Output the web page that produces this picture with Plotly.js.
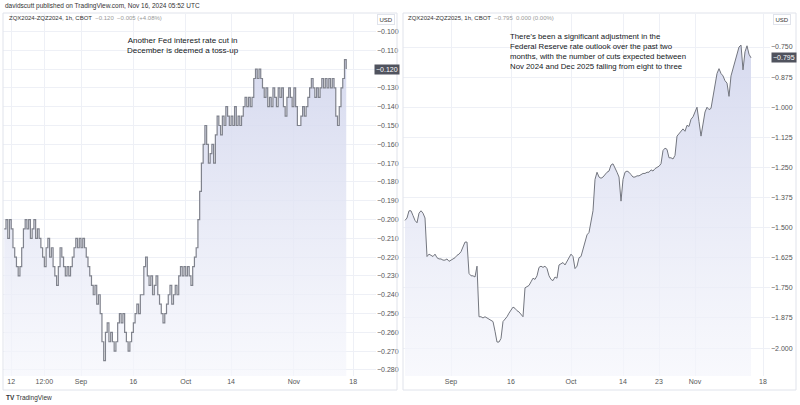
<!DOCTYPE html>
<html>
<head>
<meta charset="utf-8">
<script src="https://cdn.plot.ly/plotly-3.0.1.min.js"></script>
<style>
  body { margin: 0; background: #fff; }
  #chart { width: 800px; height: 405px; }
</style>
</head>
<body>
<div id="chart"></div>
<script>
// ZQX2024-ZQZ2024 spread, one reading every 12h from Aug 10
const decStart = '2024-08-10T00:00:00'
const decSpread = [
  -0.205, -0.200, -0.210, -0.200, -0.205, -0.215,
  -0.220, -0.225, -0.230, -0.225, -0.215, -0.205,
  -0.200, -0.205, -0.200, -0.210, -0.205, -0.200, -0.210, -0.205, -0.210,
  -0.215, -0.220, -0.225, -0.215, -0.210,
  -0.220, -0.215, -0.225, -0.230, -0.235, -0.225, -0.215, -0.220, -0.225, -0.230, -0.225,
  -0.230, -0.225, -0.220, -0.215, -0.210, -0.215, -0.210, -0.215, -0.210, -0.215, -0.220,
  -0.225, -0.230, -0.235, -0.240, -0.235, -0.245, -0.240,
  -0.250, -0.265, -0.275, -0.260, -0.255,
  -0.265, -0.260, -0.265, -0.270, -0.265, -0.255, -0.250, -0.255, -0.250, -0.260,
  -0.265, -0.270, -0.265, -0.260, -0.255, -0.250, -0.245, -0.250, -0.240, -0.240,
  -0.225, -0.220, -0.230, -0.235, -0.230, -0.240, -0.235, -0.230, -0.240, -0.245,
  -0.250, -0.255, -0.250, -0.245, -0.240, -0.235, -0.245, -0.240, -0.235, -0.240,
  -0.230, -0.225, -0.230, -0.225, -0.230, -0.225, -0.230, -0.235, -0.225, -0.220,
  -0.215,
  -0.200, -0.185, -0.170, -0.160, -0.150, -0.160, -0.170, -0.165, -0.160, -0.170,
  -0.155, -0.145, -0.150, -0.155, -0.145, -0.150, -0.140, -0.145, -0.150, -0.145,
  -0.150, -0.140, -0.150, -0.145, -0.150, -0.145, -0.140, -0.135, -0.140, -0.135,
  -0.140, -0.135, -0.125, -0.120, -0.125, -0.120, -0.125, -0.130, -0.135, -0.130,
  -0.140, -0.135, -0.140, -0.130, -0.135, -0.140, -0.130, -0.135, -0.130, -0.140,
  -0.145, -0.135, -0.130, -0.135, -0.140, -0.130, -0.140, -0.150, -0.150, -0.145,
  -0.140, -0.145, -0.140, -0.135, -0.130, -0.125, -0.130, -0.135, -0.130, -0.135,
  -0.130, -0.125, -0.130, -0.125, -0.130, -0.125, -0.130, -0.125, -0.130, -0.145,
  -0.150, -0.140, -0.130, -0.125, -0.115, -0.120
]

// ZQX2024-ZQZ2025 spread, one reading every 12h from Aug 20 12:00
const dec25Start = '2024-08-20T12:00:00'
const dec25Spread = [
  -1.47, -1.46, -1.43, -1.43, -1.45, -1.47, -1.48, -1.44, -1.43, -1.44,
  -1.46, -1.62, -1.61, -1.615, -1.62, -1.61, -1.625, -1.63, -1.63, -1.635,
  -1.635, -1.63, -1.64, -1.635, -1.63, -1.625, -1.615, -1.61, -1.60, -1.58,
  -1.56, -1.56, -1.69, -1.70, -1.70, -1.705, -1.66, -1.87, -1.87, -1.875,
  -1.87, -1.875, -1.88, -1.885, -1.89, -1.93, -1.975, -1.975, -1.96, -1.89,
  -1.88, -1.87, -1.855, -1.84, -1.83, -1.835, -1.845, -1.85, -1.86, -1.87,
  -1.75, -1.745, -1.74, -1.725, -1.71, -1.715, -1.70, -1.665, -1.66, -1.665,
  -1.66, -1.67, -1.70, -1.715, -1.72, -1.705, -1.71, -1.655, -1.65, -1.645,
  -1.655, -1.64, -1.62, -1.61, -1.62, -1.67, -1.66, -1.625, -1.62, -1.59,
  -1.56, -1.53, -1.52, -1.47, -1.43, -1.30, -1.27, -1.29, -1.295, -1.29,
  -1.28, -1.27, -1.265, -1.24, -1.235, -1.25, -1.27, -1.29, -1.39, -1.30,
  -1.27, -1.265, -1.27, -1.28, -1.29, -1.29, -1.285, -1.285, -1.28, -1.275,
  -1.275, -1.27, -1.27, -1.26, -1.265, -1.255, -1.25, -1.245, -1.235, -1.18,
  -1.17, -1.175, -1.21, -1.21, -1.215, -1.20, -1.12, -1.11, -1.10, -1.09,
  -1.10, -1.075, -1.08, -1.05, -1.04, -1.02, -1.00, -1.06, -1.12, -1.07,
  -1.02, -1.00, -1.01, -1.005, -0.95, -0.90, -0.86, -0.84, -0.86, -0.87,
  -0.89, -0.90, -0.955, -0.87, -0.84, -0.80, -0.775, -0.75, -0.742, -0.845,
  -0.77, -0.745, -0.78, -0.795
]

const decTickVals = ['2024-08-12', '2024-08-21 12:00', '2024-09-01', '2024-09-16', '2024-10-01', '2024-10-14', '2024-11-01', '2024-11-18']
const decTickText = ['12', '12:00', 'Sep', '16', 'Oct', '14', 'Nov', '18']
const dec25TickVals = ['2024-09-01', '2024-09-16', '2024-10-01', '2024-10-14', '2024-10-23', '2024-11-01', '2024-11-18']
const dec25TickText = ['Sep', '16', 'Oct', '14', '23', 'Nov', '18']
const decPriceTicks = [-0.28, -0.27, -0.26, -0.25, -0.24, -0.23, -0.22, -0.21, -0.20, -0.19, -0.18, -0.17, -0.16, -0.15, -0.14, -0.13, -0.12, -0.11, -0.10]
const dec25PriceTicks = [-2.0, -1.875, -1.75, -1.625, -1.5, -1.375, -1.25, -1.125, -1.0, -0.875, -0.75]

const halfDays = (start, n) => {
  const t0 = new Date(start + 'Z').getTime()
  const out = []
  for (let i = 0; i < n; i++) {
    out.push(new Date(t0 + i * 12 * 3600e3).toISOString().slice(0, 16).replace('T', ' '))
  }
  return out
}

const fmt = v => (v < 0 ? '\u2212' : '') + Math.abs(v).toFixed(3)

const W = 800, H = 405
const px = x => x / W
const py = y => 1 - y / H

const decX = halfDays(decStart, decSpread.length)
const dec25X = halfDays(dec25Start, dec25Spread.length)

const decLast = decSpread[decSpread.length - 1]
const dec25Last = dec25Spread[dec25Spread.length - 1]

const leftRange = [-0.2832, -0.0907]
const rightRange = [-2.116, -0.613]

const grad = {
  type: 'vertical',
  colorscale: [[0, 'rgba(245,246,252,0.7)'], [1, 'rgba(210,214,237,0.9)']]
}

const data = [
  {
    x: [decX[0], decX[decX.length - 1]],
    y: [leftRange[0], leftRange[0]],
    xaxis: 'x', yaxis: 'y',
    mode: 'lines', line: { width: 0 },
    hoverinfo: 'skip', showlegend: false
  },
  {
    x: decX, y: decSpread,
    xaxis: 'x', yaxis: 'y',
    mode: 'lines', line: { color: '#80838d', width: 1.2, shape: 'hv' },
    fill: 'tonexty', fillgradient: grad,
    showlegend: false
  },
  {
    x: [dec25X[0], dec25X[dec25X.length - 1]],
    y: [rightRange[0], rightRange[0]],
    xaxis: 'x2', yaxis: 'y2',
    mode: 'lines', line: { width: 0 },
    hoverinfo: 'skip', showlegend: false
  },
  {
    x: dec25X, y: dec25Spread,
    xaxis: 'x2', yaxis: 'y2',
    mode: 'lines', line: { color: '#73767f', width: 1 },
    fill: 'tonexty', fillgradient: grad,
    showlegend: false
  }
]

const tickFont = { family: 'Liberation Sans, Arial, sans-serif', size: 7, color: '#555' }
const grid = '#eef0f6'

const xBase = {
  type: 'date', showgrid: true, gridcolor: grid, zeroline: false,
  showline: false, ticks: '', tickfont: tickFont, tickmode: 'array'
}
const yBase = {
  side: 'right', showgrid: true, gridcolor: grid, zeroline: false,
  showline: false, ticks: '', tickfont: tickFont, tickmode: 'array'
}

const textFont = { family: 'Liberation Sans, Arial, sans-serif', size: 8, color: '#131722' }
const smallFont = { family: 'Liberation Sans, Arial, sans-serif', size: 6, color: '#333' }

// the last-price tag covers its own grid label, so that label is left blank
const labelsFor = (ticks, last) => ticks.map(v => Math.abs(v - last) < 1e-9 ? '' : fmt(v))

const layout = {
  width: W, height: H,
  margin: { l: 0, r: 0, t: 0, b: 0 },
  paper_bgcolor: '#fff', plot_bgcolor: '#fff',
  xaxis: Object.assign({}, xBase, {
    domain: [px(3), px(376)], anchor: 'y',
    range: ['2024-08-09 15:30', '2024-11-24 12:40'],
    tickvals: decTickVals, ticktext: decTickText
  }),
  yaxis: Object.assign({}, yBase, {
    domain: [py(376), py(14)], anchor: 'x',
    range: leftRange, tickvals: decPriceTicks, ticktext: labelsFor(decPriceTicks, decLast)
  }),
  xaxis2: Object.assign({}, xBase, {
    domain: [px(403), px(770)], anchor: 'y2',
    range: ['2024-08-20 00:00', '2024-11-19 18:00'],
    tickvals: dec25TickVals, ticktext: dec25TickText
  }),
  yaxis2: Object.assign({}, yBase, {
    domain: [py(376), py(14)], anchor: 'x2',
    range: rightRange, tickvals: dec25PriceTicks, ticktext: labelsFor(dec25PriceTicks, dec25Last)
  }),
  shapes: [
    { type: 'rect', xref: 'paper', yref: 'paper', x0: px(3), x1: px(397), y0: py(390), y1: py(13),
      line: { color: '#e0e3eb', width: 1 } },
    { type: 'rect', xref: 'paper', yref: 'paper', x0: px(403), x1: px(796), y0: py(390), y1: py(13),
      line: { color: '#e0e3eb', width: 1 } }
  ],
  annotations: [
    { xref: 'paper', yref: 'paper', x: px(3), y: py(6), xanchor: 'left', yanchor: 'middle', showarrow: false,
      text: 'davidscutt published on TradingView.com, Nov 16, 2024 05:52 UTC',
      font: Object.assign({}, smallFont, { size: 6.5 }) },
    { xref: 'paper', yref: 'paper', x: px(7), y: py(18), xanchor: 'left', yanchor: 'middle', showarrow: false,
      text: 'ZQX2024-ZQZ2024, 1h, CBOT  <span style="color:#999">\u22120.120  \u22120.005 (+4.08%)</span>',
      font: smallFont },
    { xref: 'paper', yref: 'paper', x: px(406), y: py(18), xanchor: 'left', yanchor: 'middle', showarrow: false,
      text: 'ZQX2024-ZQZ2025, 1h, CBOT  <span style="color:#999">\u22120.795  0.000 (0.00%)</span>',
      font: smallFont },
    { xref: 'paper', yref: 'paper', x: px(386), y: py(19), xanchor: 'center', yanchor: 'middle', showarrow: false,
      text: 'USD', font: smallFont, bordercolor: '#e0e3eb', borderwidth: 1, borderpad: 1.5 },
    { xref: 'paper', yref: 'paper', x: px(782), y: py(19), xanchor: 'center', yanchor: 'middle', showarrow: false,
      text: 'USD', font: smallFont, bordercolor: '#e0e3eb', borderwidth: 1, borderpad: 1.5 },
    { xref: 'paper', yref: 'paper', x: px(183), y: py(45.5), xanchor: 'center', yanchor: 'middle', showarrow: false,
      align: 'center', text: 'Another Fed interest rate cut in<br>December is deemed a toss-up', font: textFont },
    { xref: 'paper', yref: 'paper', x: px(508), y: py(51.5), xanchor: 'left', yanchor: 'middle', showarrow: false,
      align: 'left',
      text: 'There\u2019s been a significant adjustment in the<br>Federal Reserve rate outlook over the past two<br>months, with the number of cuts expected between<br>Nov 2024 and Dec 2025 falling from eight to three',
      font: Object.assign({}, textFont, { size: 7.8 }) },
    { xref: 'paper', yref: 'y', x: px(387), y: decLast, xanchor: 'center', yanchor: 'middle', showarrow: false,
      text: fmt(decLast), bgcolor: '#50535e', borderpad: 1,
      font: { family: 'Liberation Sans, Arial, sans-serif', size: 7, color: '#fff' } },
    { xref: 'paper', yref: 'y2', x: px(783.5), y: dec25Last, xanchor: 'center', yanchor: 'middle', showarrow: false,
      text: fmt(dec25Last), bgcolor: '#50535e', borderpad: 1,
      font: { family: 'Liberation Sans, Arial, sans-serif', size: 7, color: '#fff' } },
    { xref: 'paper', yref: 'paper', x: px(4), y: py(398), xanchor: 'left', yanchor: 'middle', showarrow: false,
      text: '<b>TV</b> TradingView', font: { family: 'Liberation Sans, Arial, sans-serif', size: 6.5, color: '#333' } }
  ]
}

Plotly.newPlot('chart', data, layout, { staticPlot: true })
</script>
</body>
</html>
